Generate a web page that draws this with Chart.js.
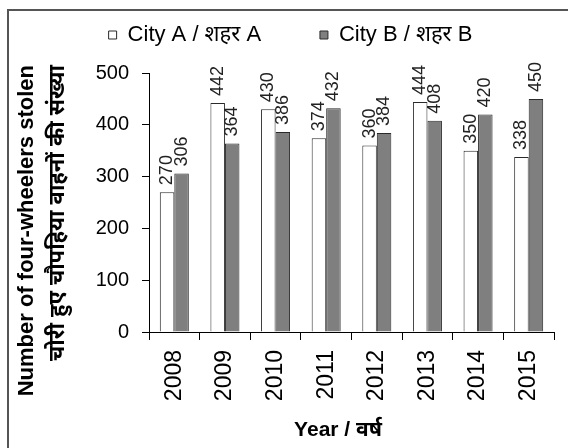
<!DOCTYPE html>
<html>
<head>
<meta charset="utf-8">
<script src="https://cdn.jsdelivr.net/npm/chart.js@4/dist/chart.umd.min.js"></script>
<style>
  html, body { margin: 0; padding: 0; background: #fff; }
  #wrap { position: relative; width: 568px; height: 448px; overflow: hidden; }
  #frame { position: absolute; left: 7px; top: 9px; width: 600px; height: 500px;
           border-left: 2px solid #555; border-top: 2px solid #555; box-sizing: border-box; pointer-events: none; }
  canvas { position: absolute; left: 0; top: 0; }
</style>
</head>
<body>
<div id="wrap">
  <canvas id="c" width="568" height="448"></canvas>
  <div id="frame"></div>
</div>
<script>
const years = ['2008', '2009', '2010', '2011', '2012', '2013', '2014', '2015'];
const cityA = [270, 442, 430, 374, 360, 444, 350, 338];
const cityB = [306, 364, 386, 432, 384, 408, 420, 450];
const seriesNames = ['City A / शहर A', 'City B / शहर B'];
const yTitleLines = ['Number of four-wheelers stolen', 'चोरी हुए चौपहिया वाहनों की संख्या'];
const xTitle = 'Year / वर्ष';
const yMin = 0, yMax = 500, yStep = 100;

const FONT = '"Liberation Sans", Arial, "Noto Sans", sans-serif';

const legendSpace = {
  id: 'legendSpace',
  beforeInit(chart) {
    const origFit = chart.legend.fit;
    chart.legend.fit = function () {
      origFit.bind(chart.legend)();
      this.height += 17;
    };
  }
};

const valueLabels = {
  id: 'valueLabels',
  afterDatasetsDraw(chart) {
    const ctx = chart.ctx;
    ctx.save();
    ctx.font = '18px ' + FONT;
    ctx.fillStyle = '#222';
    ctx.textAlign = 'left';
    ctx.textBaseline = 'middle';
    chart.data.datasets.forEach((ds, di) => {
      const meta = chart.getDatasetMeta(di);
      meta.data.forEach((bar, i) => {
        ctx.save();
        ctx.translate(bar.x, bar.y - 7);
        ctx.rotate(-Math.PI / 2);
        ctx.fillText(String(ds.data[i]), 0, 0);
        ctx.restore();
      });
    });
    ctx.restore();
  }
};

const axisTitles = {
  id: 'axisTitles',
  afterDraw(chart) {
    const ctx = chart.ctx;
    ctx.save();
    ctx.fillStyle = '#000';
    ctx.font = 'bold 22px ' + FONT;
    ctx.textBaseline = 'middle';
    const xs = [27, 58];
    yTitleLines.forEach((t, k) => {
      ctx.save();
      ctx.translate(xs[k], 65);
      ctx.rotate(-Math.PI / 2);
      ctx.textAlign = 'right';
      ctx.fillText(t, 0, 0);
      ctx.restore();
    });
    ctx.font = 'bold 21px ' + FONT;
    ctx.textAlign = 'center';
    ctx.fillText(xTitle, 338, 430);
    ctx.restore();
  }
};

new Chart(document.getElementById('c'), {
  type: 'bar',
  data: {
    labels: years,
    datasets: [
      { label: seriesNames[0], data: cityA, backgroundColor: '#ffffff', borderColor: '#2a2a2a', borderWidth: 1 },
      { label: seriesNames[1], data: cityB, backgroundColor: '#7f7f7f', borderColor: '#2a2a2a', borderWidth: 1 }
    ]
  },
  options: {
    responsive: false,
    animation: false,
    devicePixelRatio: 1,
    layout: { padding: { left: 27, right: 14, top: 14, bottom: 0 } },
    datasets: { bar: { categoryPercentage: 0.573, barPercentage: 1.0 } },
    plugins: {
      tooltip: { enabled: false },
      legend: {
        position: 'top',
        labels: {
          boxWidth: 8, boxHeight: 8, padding: 10, color: '#000',
          font: { size: 22, family: FONT },
          generateLabels(chart) {
            const items = Chart.defaults.plugins.legend.labels.generateLabels(chart);
            items.forEach((it, i) => { if (i === 0) it.text = it.text + '\u00a0\u00a0\u00a0\u00a0\u00a0\u00a0\u00a0\u00a0'; it.lineWidth = 1; });
            return items;
          }
        }
      }
    },
    scales: {
      x: {
        grid: { display: true, drawOnChartArea: false, drawTicks: true, tickLength: 8, color: '#000', offset: true },
        border: { display: true, color: '#000', width: 1 },
        ticks: { maxRotation: 90, minRotation: 90, padding: 10, color: '#000', font: { size: 23, family: FONT } },
        afterFit(s) { s.height = 116; }
      },
      y: {
        min: yMin, max: yMax,
        grid: { display: true, drawOnChartArea: false, drawTicks: true, tickLength: 7, color: '#000' },
        border: { display: true, color: '#000', width: 1 },
        ticks: { stepSize: yStep, padding: 13, color: '#000', font: { size: 20, family: FONT } },
        afterFit(s) { s.width = 122; }
      }
    }
  },
  plugins: [legendSpace, valueLabels, axisTitles]
});
</script>
</body>
</html>
